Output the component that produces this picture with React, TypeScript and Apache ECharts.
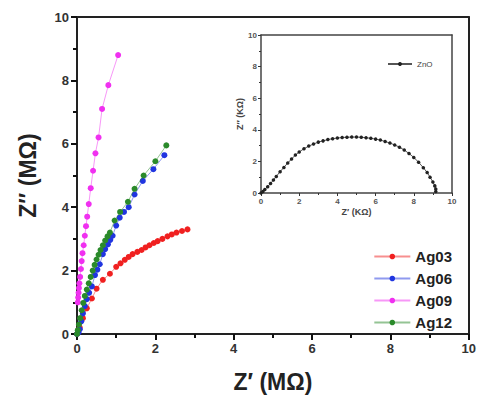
import React, { useEffect, useRef } from "react";
import * as echarts from "echarts";

const ag03X = [0, 0.03, 0.07, 0.15, 0.25, 0.38, 0.5, 0.66, 0.84, 1.0, 1.11, 1.22, 1.32, 1.42, 1.54, 1.65, 1.75, 1.85, 1.96, 2.06, 2.18, 2.31, 2.42, 2.54, 2.68, 2.82];
const ag03Y = [0, 0.08, 0.2, 0.5, 0.81, 1.12, 1.43, 1.71, 1.9, 2.12, 2.23, 2.34, 2.43, 2.52, 2.59, 2.65, 2.73, 2.8, 2.87, 2.93, 3.0, 3.08, 3.14, 3.2, 3.25, 3.3];

const ag06X = [0, 0.04, 0.07, 0.11, 0.15, 0.2, 0.25, 0.31, 0.38, 0.46, 0.52, 0.58, 0.66, 0.72, 0.79, 0.85, 0.91, 1.0, 1.09, 1.2, 1.32, 1.47, 1.68, 1.95, 2.23];
const ag06Y = [0, 0.05, 0.15, 0.4, 0.65, 0.88, 1.1, 1.3, 1.5, 1.86, 2.03, 2.2, 2.52, 2.68, 2.83, 2.97, 3.1, 3.42, 3.67, 3.85, 4.0, 4.4, 4.83, 5.2, 5.64];

const ag09X = [0.02, 0.03, 0.04, 0.05, 0.06, 0.08, 0.1, 0.12, 0.14, 0.17, 0.2, 0.23, 0.26, 0.3, 0.35, 0.41, 0.47, 0.55, 0.64, 0.8, 1.05];
const ag09Y = [1.0, 1.15, 1.3, 1.45, 1.6, 1.8, 2.05, 2.3, 2.55, 2.8, 3.1, 3.4, 3.7, 4.1, 4.6, 5.15, 5.7, 6.2, 7.1, 7.85, 8.8];

const ag12X = [0, 0.02, 0.05, 0.08, 0.12, 0.16, 0.2, 0.25, 0.3, 0.35, 0.4, 0.45, 0.5, 0.55, 0.6, 0.66, 0.72, 0.78, 0.84, 0.96, 1.1, 1.3, 1.47, 1.7, 2.0, 2.28];
const ag12Y = [0, 0.12, 0.3, 0.5, 0.75, 0.98, 1.2, 1.4, 1.6, 1.8, 2.0, 2.18, 2.35, 2.5, 2.65, 2.8, 2.95, 3.08, 3.2, 3.58, 3.85, 4.17, 4.58, 5.0, 5.45, 5.95];

const znoX = [0, 0.1, 0.2, 0.35, 0.5, 0.65, 0.8, 1.0, 1.2, 1.4, 1.6, 1.8, 2.0, 2.25, 2.5, 2.75, 3.0, 3.25, 3.5, 3.75, 4.0, 4.25, 4.5, 4.75, 5.0, 5.25, 5.5, 5.75, 6.0, 6.25, 6.5, 6.75, 7.0, 7.25, 7.5, 7.75, 8.0, 8.25, 8.5, 8.7, 8.85, 9.0, 9.1, 9.15, 9.15];
const znoY = [0, 0.1, 0.22, 0.4, 0.6, 0.82, 1.05, 1.35, 1.62, 1.9, 2.15, 2.4, 2.6, 2.8, 2.97, 3.1, 3.22, 3.3, 3.38, 3.44, 3.48, 3.51, 3.53, 3.54, 3.54, 3.53, 3.5, 3.46, 3.41, 3.35, 3.26, 3.16, 3.04, 2.9, 2.72, 2.5, 2.25, 1.95, 1.6, 1.3, 1.0, 0.7, 0.45, 0.25, 0.1];

const mainNames = ["Ag03", "Ag06", "Ag09", "Ag12"];
const mainColors = ["#f02020", "#2035e0", "#f030f0", "#2a8a2a"];
const mainXs = [ag03X, ag06X, ag09X, ag12X];
const mainYs = [ag03Y, ag06Y, ag09Y, ag12Y];

const zip = (xs: number[], ys: number[]) => xs.map((x, i) => [x, ys[i]]);

export default function App() {
  const ref = useRef<HTMLDivElement>(null);
  useEffect(() => {
    if (!ref.current) return;
    const chart = echarts.init(ref.current, null, { renderer: "svg" });
    const font = "Arial, 'Liberation Sans', sans-serif";
    const mainSeries = mainNames.map((n, i) => ({
      name: n,
      type: "line",
      xAxisIndex: 0,
      yAxisIndex: 0,
      data: zip(mainXs[i], mainYs[i]),
      symbol: "circle",
      symbolSize: 6,
      itemStyle: { color: mainColors[i] },
      lineStyle: { color: mainColors[i], width: 1, opacity: 0.5 },
      z: 3 + i,
    }));
    const hiddenSplit = { show: true, lineStyle: { color: "rgba(0,0,0,0)", width: 0 } };
    const mainAxis = (extra: any) => ({
      type: "value", gridIndex: 0, min: 0, max: 10, interval: 2,
      splitLine: hiddenSplit,
      axisLine: { show: true, onZero: false, lineStyle: { color: "#222", width: 2 } },
      axisTick: { show: true, length: 6, lineStyle: { color: "#111", width: 2 } },
      minorTick: { show: true, splitNumber: 2, length: 4, lineStyle: { color: "#111", width: 2 } },
      axisLabel: { fontSize: 13, fontWeight: "bold", color: "#333", margin: 8 },
      nameLocation: "middle",
      nameTextStyle: { fontSize: 23, fontWeight: "bold", color: "#222" },
      ...extra,
    });
    const insetAxis = (extra: any) => ({
      type: "value", gridIndex: 1, min: 0, max: 10, interval: 2,
      splitLine: hiddenSplit,
      axisLine: { show: true, onZero: false, lineStyle: { color: "#444", width: 1.5 } },
      axisTick: { show: true, length: 3, lineStyle: { color: "#333", width: 1 } },
      minorTick: { show: true, splitNumber: 2, length: 2, lineStyle: { color: "#333", width: 1 } },
      axisLabel: { fontSize: 8, fontWeight: "bold", color: "#555", margin: 4 },
      nameLocation: "middle",
      nameTextStyle: { fontSize: 9, fontWeight: "bold", color: "#444" },
      ...extra,
    });
    const frame = { axisTick: { show: false }, minorTick: { show: false }, axisLabel: { show: false }, splitLine: { show: false }, name: "" };
    chart.setOption({
      animation: false,
      textStyle: { fontFamily: font },
      grid: [
        { left: 77, right: 8, top: 17, bottom: 60 },
        { left: 261, right: 27, top: 35, bottom: 205 },
      ],
      xAxis: [
        mainAxis({ name: "Z\u2032 (M\u03A9)", nameGap: 36 }),
        insetAxis({ name: "Z\u2032 (K\u03A9)", nameGap: 14 }),
        mainAxis({ position: "top", ...frame }),
        insetAxis({ position: "top", ...frame }),
      ],
      yAxis: [
        mainAxis({ name: "Z\u2033 (M\u03A9)", nameGap: 38 }),
        insetAxis({ name: "Z\u2033 (K\u03A9)", nameGap: 16 }),
        mainAxis({ position: "right", ...frame }),
        insetAxis({ position: "right", ...frame }),
      ],
      legend: [
        {
          data: mainNames, orient: "vertical", right: 22, top: 244,
          itemWidth: 36, itemHeight: 7, itemGap: 7,
          textStyle: { fontSize: 15, fontWeight: "bold", color: "#222" },
        },
        {
          data: ["ZnO"], orient: "vertical", left: 382, top: 55,
          itemWidth: 24, itemHeight: 5,
          textStyle: { fontSize: 8, color: "#444" },
        },
      ],
      series: [
        ...mainSeries,
        {
          name: "ZnO", type: "line", xAxisIndex: 1, yAxisIndex: 1,
          data: zip(znoX, znoY), symbol: "circle", symbolSize: 3.5,
          itemStyle: { color: "#222" }, lineStyle: { color: "#555", width: 1 },
        },
      ],
    });
    return () => chart.dispose();
  }, []);
  return <div ref={ref} style={{ position: "absolute", left: 0, top: 0, width: 479, height: 398 }} />;
}
